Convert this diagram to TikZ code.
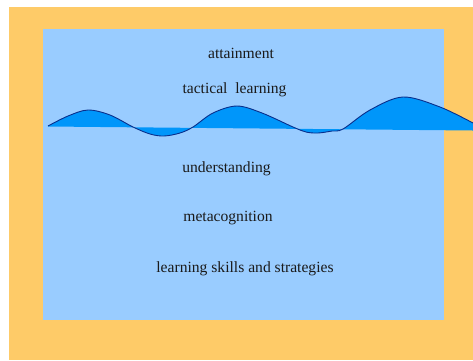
\documentclass[tikz,border=0pt]{standalone}
\usepackage{fontspec}
\setmainfont{Liberation Serif}
\definecolor{frameorange}{HTML}{FECB68}
\definecolor{panelblue}{HTML}{99CCFF}
\definecolor{wavefill}{HTML}{0096FA}
\definecolor{waveline}{HTML}{0A2F8C}
\definecolor{labeltext}{HTML}{1A1A1A}
\begin{document}
\begin{tikzpicture}[x=1pt,y=-1pt,
  label/.style={anchor=base,inner sep=0pt,text=labeltext,font=\fontsize{15.6}{18}\selectfont}]
\useasboundingbox (0,0) rectangle (473,360);
% outer frame and inner panel
\fill[frameorange] (9,7) rectangle (473,360);
\fill[panelblue] (43,29) rectangle (444,320);
% the wave: filled between the curve and a slightly tilted base line
\def\wavepts{(48,126) (68,116) (88,110) (110,115) (133,127) (150,134) (164,136) (180,133) (193,127) (213,113) (237,106) (262,113) (293,127) (306,132) (318,133) (332,131) (343,129) (370,110) (403,97) (440,107) (473,123)}
\fill[wavefill] plot[smooth,tension=0.55] coordinates {\wavepts} -- (473,130.5) -- (48,126.5) -- cycle;
\draw[waveline,line width=0.9pt,line join=round] plot[smooth,tension=0.55] coordinates {\wavepts};
% labels
\node[label] (att) at (241,58) {attainment};
\node[label] (tac) at (234.5,93) {tactical\ \ learning};
\node[label] (und) at (226.5,172) {understanding};
\node[label] (meta) at (228,221) {metacognition};
\node[label] (lss) at (245,272) {learning skills and strategies};
\end{tikzpicture}
\end{document}
